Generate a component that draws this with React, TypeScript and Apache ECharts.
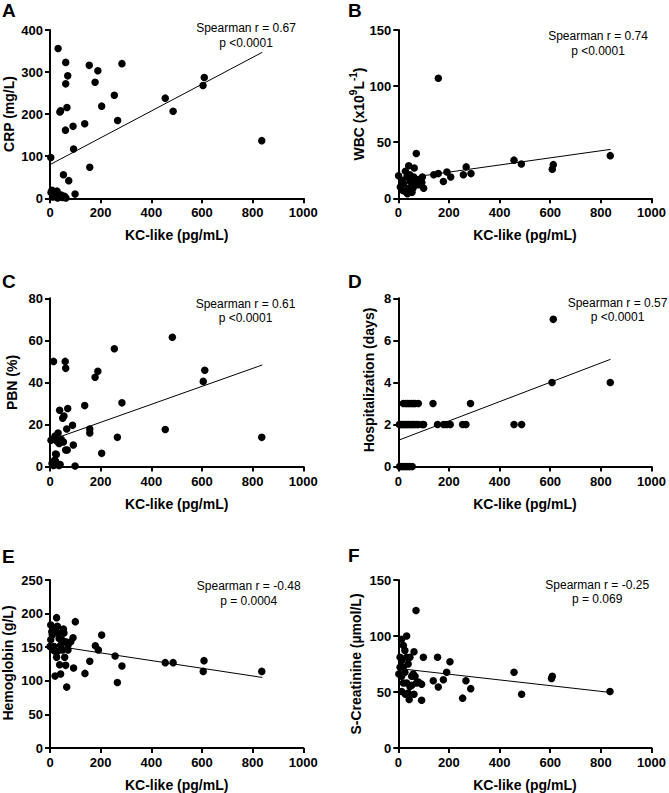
import React, { useEffect, useRef } from "react";
import * as echarts from "echarts";

const FONT = '"Liberation Sans", Arial, Helvetica, sans-serif';

// [KC-like (pg/mL), value] pairs for each clinical marker
const crpPoints = [
  [3, 97], [32, 356], [62, 323], [155, 316], [284, 320], [189, 303], [70, 291], [62, 272],
  [178, 276], [609, 287], [604, 268], [254, 245], [455, 238], [39, 205], [42, 208], [67, 216],
  [204, 219], [486, 207], [267, 185], [61, 162], [91, 171], [137, 177], [93, 117], [836, 137],
  [157, 74], [53, 56], [74, 42], [99, 10],
  [4, 14], [8, 19], [12, 9], [16, 16], [20, 4], [24, 12], [28, 17], [33, 6], [38, 3], [44, 8],
  [50, 2], [57, 5], [63, 1], [10, 3], [30, 1],
];

const wbcPoints = [
  [158, 107], [71, 40], [457, 34], [486, 30.5], [837, 38], [612, 30], [608, 26], [268, 28],
  [41, 29], [63, 27], [257, 21], [287, 22], [192, 23.5], [207, 19], [178, 15], [140, 21],
  [158, 22], [95, 19], [100, 9], [93, 14],
  [1, 20], [21, 13], [28, 6], [41, 9], [54, 5.3], [47, 15], [61, 19], [74, 16], [80, 12],
  [34, 19], [14, 16], [67, 12], [28, 24], [8, 10], [36, 4], [58, 9], [45, 21], [18, 7],
];

const pbnPoints = [
  [483, 61.5], [254, 56], [14, 50], [60, 50], [62, 46.7], [611, 45.8], [189, 45.3], [178, 42.5],
  [605, 40.5], [284, 30.3], [137, 29], [70, 27.6], [38, 26.8], [50, 23], [55, 24], [89, 19.6],
  [66, 17.9], [455, 17.6], [157, 17.9], [157, 16], [266, 13.9], [836, 13.9], [32, 16], [36, 11],
  [53, 11.7], [92, 10.3], [68, 7.9], [62, 7.9], [204, 6.3], [25, 5.7], [99, 0.3],
  [4, 12.5], [12, 13], [20, 14.5], [28, 12], [44, 13], [18, 3], [8, 1.5], [22, 2.5], [28, 1],
  [36, 0.5], [14, 0.5], [22, 6], [40, 1],
];

const hospPoints = [
  [612, 7], [607, 4], [837, 4],
  [20, 3], [30, 3], [37, 3], [45, 3], [53, 3], [60, 3], [66, 3], [79, 3], [137, 3], [285, 3],
  [4, 2], [10, 2], [16, 2], [22, 2], [28, 2], [34, 2], [40, 2], [46, 2], [52, 2], [58, 2],
  [64, 2], [72, 2], [79, 2], [95, 2], [100, 2], [155, 2], [179, 2], [192, 2], [205, 2],
  [254, 2], [267, 2], [457, 2], [487, 2],
  [5, 0], [14, 0], [24, 0], [34, 0], [44, 0], [55, 0],
];

const hbPoints = [
  [26, 194], [14, 178], [29, 181], [53, 177], [55, 171], [3, 183], [9, 168], [3, 161],
  [36, 163], [16, 151], [42, 153], [62, 158], [71, 153], [71, 146], [29, 143.6], [49, 146],
  [26, 135], [58, 135], [38, 124], [62, 123], [91, 164], [93, 119], [20, 107], [42, 110],
  [66, 90.6], [82, 158], [0, 151], [7, 173], [20, 144], [46, 161], [33, 171], [13, 146],
  [100, 188], [138, 111], [157, 129], [179, 152], [191, 146], [204, 168], [257, 137],
  [266, 97.5], [284, 122], [455, 127], [486, 127], [608, 130], [605, 114], [836, 114],
];

const creatPoints = [
  [70, 122.7], [33, 100], [13, 97], [20, 91.5], [26, 87], [62, 86], [99, 81], [155, 81],
  [204, 77], [457, 67.7], [191, 67.7], [608, 64], [605, 62], [138, 60], [178, 61], [267, 60],
  [286, 53], [158, 54.5], [836, 50.5], [487, 48], [254, 44.5], [92, 42.7], [43, 43.4], [92, 57],
  [7, 81], [13, 78], [33, 81], [46, 81], [39, 75], [7, 72], [26, 67.7], [13, 64], [59, 66],
  [66, 64], [72, 58], [33, 58], [13, 50.5], [39, 49], [20, 58], [53, 56], [2, 66], [46, 55],
  [62, 48], [79, 59], [53, 64], [20, 72], [28, 48],
];

// Regression line end points
const crpFit = [[0, 80], [838, 347]];
const wbcFit = [[0, 17], [838, 43.6]];
const pbnFit = [[0, 12.5], [838, 48.3]];
const hospFit = [[0, 1.25], [838, 5.1]];
const hbFit = [[0, 153], [838, 105]];
const creatFit = [[0, 71], [838, 49.6]];

const spearmanR = ["0.67", "0.74", "0.61", "0.57", "-0.48", "-0.25"];
const pTexts = ["p <0.0001", "p <0.0001", "p <0.0001", "p <0.0001", "p = 0.0004", "p = 0.069"];
const yTitles = ["CRP (mg/L)", "WBC", "PBN (%)", "Hospitalization (days)", "Hemoglobin (g/L)", "S-Creatinine (µmol/L)"];
const yMaxes = [400, 150, 80, 8, 250, 150];
const yIntervals = [100, 50, 20, 2, 50, 50];
const xTitle = "KC-like (pg/mL)";
const letters = ["A", "B", "C", "D", "E", "F"];

const pointSets = [crpPoints, wbcPoints, pbnPoints, hospPoints, hbPoints, creatPoints];
const fitSets = [crpFit, wbcFit, pbnFit, hospFit, hbFit, creatFit];

// Panel layout (pixels)
const GRID_W = 253.3;
const GRID_H = 168.3;
const lefts = [50, 398.3, 50, 398.3, 50, 398.3];
const tops = [30, 30, 298.3, 298.3, 580, 580];
const yTitleX = [9, 357, 12, 369, 7.5, 356];
const yTitleY = [114, 114, 382.5, 380, 663, 664];
const statX = [246, 598, 245.5, 617.5, 248.7, 597.2];
const statY = [28.3, 36.2, 303.8, 302.8, 586.2, 584.7];
const letterX = [2, 348, 2, 348, 2, 348];
const letterY = [10, 10, 281.7, 281.5, 556, 555];

export default function App() {
  const ref = useRef<HTMLDivElement>(null);

  useEffect(() => {
    if (!ref.current) return;
    const chart = echarts.init(ref.current, undefined, { renderer: "svg" });

    const axisCommon = {
      type: "value" as const,
      splitLine: { show: false },
      axisLine: { show: true, lineStyle: { color: "#000", width: 2 } },
      axisTick: { show: true, length: 5, lineStyle: { color: "#000", width: 2 } },
    };
    const labelStyle = {
      color: "#000",
      fontWeight: "bold" as const,
      fontSize: 13,
      fontFamily: FONT,
      formatter: (v: number) => String(v),
    };

    const grid = lefts.map((l, i) => ({ left: l, top: tops[i], width: GRID_W, height: GRID_H }));
    const xAxis = lefts.map((_, i) => ({
      ...axisCommon,
      gridIndex: i,
      min: 0,
      max: 1000,
      interval: 200,
      axisLabel: { ...labelStyle, margin: 8 },
      name: xTitle,
      nameLocation: "middle" as const,
      nameGap: 30,
      nameTextStyle: { color: "#000", fontWeight: "bold" as const, fontSize: 14, fontFamily: FONT },
    }));
    const yAxis = lefts.map((_, i) => ({
      ...axisCommon,
      gridIndex: i,
      min: 0,
      max: yMaxes[i],
      interval: yIntervals[i],
      axisLabel: { ...labelStyle, margin: 7 },
    }));

    const series: any[] = [];
    pointSets.forEach((pts, i) => {
      series.push({
        type: "scatter",
        xAxisIndex: i,
        yAxisIndex: i,
        data: pts,
        symbol: "circle",
        symbolSize: 7.5,
        clip: false,
        itemStyle: { color: "#000", opacity: 1 },
        z: 3,
      });
      series.push({
        type: "line",
        xAxisIndex: i,
        yAxisIndex: i,
        data: fitSets[i],
        symbol: "none",
        lineStyle: { color: "#000", width: 1 },
        z: 2,
        silent: true,
      });
    });

    const graphic: any[] = [];
    letters.forEach((letter, i) => {
      graphic.push({
        type: "text",
        x: letterX[i],
        y: letterY[i],
        style: {
          text: letter,
          fontSize: 19,
          fontWeight: "bold",
          fontFamily: FONT,
          fill: "#000",
          align: "left",
          verticalAlign: "middle",
        },
      });
      graphic.push({
        type: "text",
        x: statX[i],
        y: statY[i],
        style: {
          text: `Spearman r = ${spearmanR[i]}`,
          fontSize: 12,
          fontFamily: FONT,
          fill: "#000",
          align: "center",
          verticalAlign: "middle",
        },
      });
      graphic.push({
        type: "text",
        x: statX[i],
        y: statY[i] + 14.5,
        style: {
          text: pTexts[i],
          fontSize: 12,
          fontFamily: FONT,
          fill: "#000",
          align: "center",
          verticalAlign: "middle",
        },
      });
      const titleBase = {
        fontSize: 14,
        fontWeight: "bold",
        fontFamily: FONT,
        fill: "#000",
      };
      if (i === 1) {
        graphic.push({
          type: "text",
          x: yTitleX[i],
          y: yTitleY[i],
          rotation: Math.PI / 2,
          style: {
            text: "{b|WBC (x10}{s|9}{b|L}{s|-1}{b|)}",
            align: "center",
            verticalAlign: "middle",
            rich: {
              b: { ...titleBase, verticalAlign: "bottom", lineHeight: 18 },
              s: { ...titleBase, fontSize: 10, verticalAlign: "top", lineHeight: 18 },
            },
          },
        });
      } else {
        graphic.push({
          type: "text",
          x: yTitleX[i],
          y: yTitleY[i],
          rotation: Math.PI / 2,
          style: {
            ...titleBase,
            text: yTitles[i],
            align: "center",
            verticalAlign: "middle",
          },
        });
      }
    });

    chart.setOption({
      animation: false,
      backgroundColor: "#fff",
      grid,
      xAxis,
      yAxis,
      series,
      graphic,
    });

    return () => chart.dispose();
  }, []);

  return (
    <div
      ref={ref}
      style={{ position: "absolute", left: 0, top: 0, width: 669, height: 793, background: "#fff" }}
    />
  );
}
